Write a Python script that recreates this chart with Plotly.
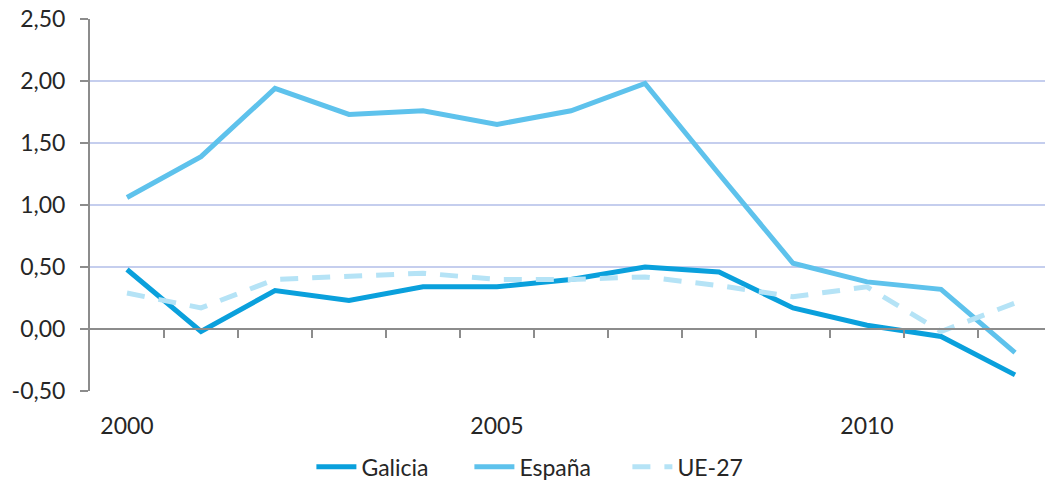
import plotly.graph_objects as go

years = list(range(2000, 2013))
galicia = [0.48, -0.02, 0.31, 0.23, 0.34, 0.34, 0.40, 0.50, 0.46, 0.17, 0.03, -0.06, -0.37]
espana = [1.06, 1.39, 1.94, 1.73, 1.76, 1.65, 1.76, 1.98, 1.25, 0.53, 0.38, 0.32, -0.19]
ue27 = [0.29, 0.17, 0.40, 0.43, 0.45, 0.40, 0.40, 0.42, 0.35, 0.26, 0.34, -0.02, 0.21]

y_tickvals = [-0.5, 0.0, 0.5, 1.0, 1.5, 2.0, 2.5]
y_ticktext = ["-0,50", "0,00", "0,50", "1,00", "1,50", "2,00", "2,50"]
x_tickvals = [2000, 2005, 2010]
x_ticktext = ["2000", "2005", "2010"]
x_boundaries = [y + 0.5 for y in years]

FONT = "Lato"
FS = 23
TXT = "#262626"
GRID = "#C5CEEE"
AXIS = "#8C8C8C"

fig = go.Figure()
fig.add_trace(go.Scatter(x=years, y=galicia, name="Galicia", mode="lines",
                         line=dict(color="#0AA0DC", width=5)))
fig.add_trace(go.Scatter(x=years, y=espana, name="España", mode="lines",
                         line=dict(color="#5EC2EC", width=5)))
fig.add_trace(go.Scatter(x=years, y=ue27, name="UE-27", mode="lines",
                         line=dict(color="#B5E3F6", width=5, dash="18px,14px")))
fig.add_trace(go.Scatter(x=years, y=[None] * len(years), xaxis="x2", showlegend=False,
                         hoverinfo="skip", mode="lines"))

xr = [1999.5, 2012.405]
yr = [-0.5, 2.5]
fig.update_layout(
    width=1045, height=485,
    margin=dict(l=90, r=0, t=19, b=94, autoexpand=False),
    paper_bgcolor="white", plot_bgcolor="white",
    font=dict(family=FONT, size=FS, color=TXT),
    showlegend=True,
    legend=dict(orientation="h", x=0.48, xanchor="center", y=-0.204, yanchor="middle",
                font=dict(family=FONT, size=FS, color=TXT), itemwidth=40,
                entrywidth=103, entrywidthmode="pixels",
                bgcolor="rgba(0,0,0,0)"),
    xaxis=dict(range=xr, tickvals=x_tickvals, ticktext=x_ticktext, showgrid=False,
               showline=False, zeroline=False, ticks="", ticklabelstandoff=19,
               automargin=False,
               tickfont=dict(family=FONT, size=FS, color=TXT)),
    xaxis2=dict(range=xr, overlaying="x", anchor="free", position=(0 - yr[0]) / (yr[1] - yr[0]),
                side="bottom",
                tickvals=x_boundaries, showticklabels=False, showgrid=False,
                showline=True, linecolor=AXIS, linewidth=2, ticks="outside",
                ticklen=8, tickwidth=2, tickcolor=AXIS, zeroline=False, automargin=False),
    yaxis=dict(range=yr, tickvals=y_tickvals, ticktext=y_ticktext,
               showgrid=True, gridcolor=GRID, gridwidth=1.5, zeroline=False,
               showline=True, linecolor=AXIS, linewidth=2, ticks="outside",
               ticklen=8, tickwidth=2, tickcolor=AXIS, ticklabelstandoff=10,
               automargin=False,
               tickfont=dict(family=FONT, size=FS, color=TXT)),
)

fig.write_html("out.html", config={"displayModeBar": False},
               post_script="document.body.style.margin='0';")
